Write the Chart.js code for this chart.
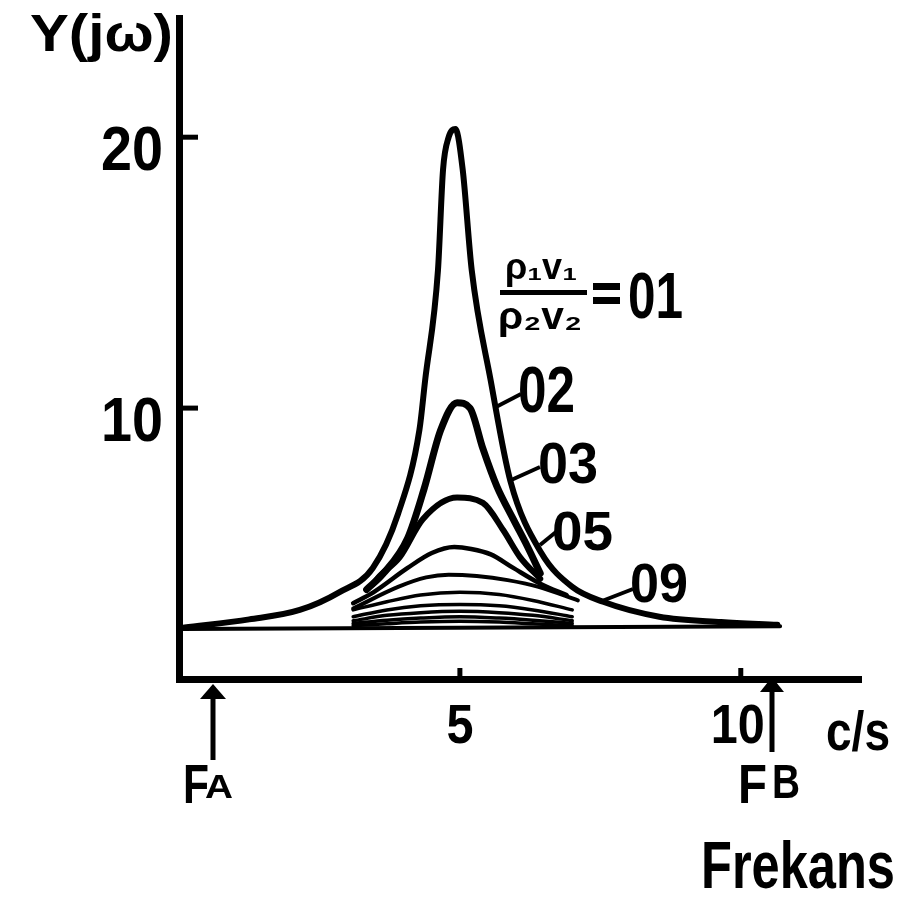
<!DOCTYPE html>
<html>
<head>
<meta charset="utf-8">
<script src="https://cdn.jsdelivr.net/npm/chart.js@4.4.1/dist/chart.umd.min.js"></script>
<style>
  html, body { margin: 0; padding: 0; background: #fff; }
  #wrap { width: 897px; height: 900px; }
</style>
</head>
<body>
<div id="wrap"><canvas id="chart" width="897" height="900"></canvas></div>
<script>
// tick labels
const xTickValues = [5, 10];
const yTickValues = [10, 20];

// ratio curves (x in c/s, y = |Y(jw)|)
const x01 = [0.1, 1.25, 2.15, 2.85, 3.45, 3.9, 4.28, 4.38, 4.61, 4.7, 4.8, 4.92, 5.05, 5.21, 5.55, 5.9, 6.45, 7.0, 7.55, 8.55, 9.65, 10.65];
const y01 = [1.9, 2.2, 2.55, 3.2, 4.1, 6.1, 9.2, 11.0, 15.1, 18.8, 20.0, 20.3, 18.8, 15.1, 11.0, 7.3, 4.65, 3.4, 2.85, 2.3, 2.1, 2.0];

const x02 = [3.34, 3.64, 4.07, 4.36, 4.66, 4.95, 5.18, 5.41, 5.66, 5.95, 6.2, 6.43];
const y02 = [3.3, 3.9, 5.2, 7.0, 9.2, 10.2, 10.0, 8.5, 7.1, 5.9, 4.9, 3.9];

const x03 = [3.45, 3.57, 3.93, 4.34, 4.95, 5.41, 5.77, 6.07, 6.43];
const y03 = [3.5, 3.8, 4.5, 5.9, 6.7, 6.5, 5.5, 4.5, 3.7];

const x04 = [3.1, 3.46, 4.07, 4.5, 4.9, 5.2, 5.55, 5.95, 6.45, 6.9];
const y04 = [2.8, 3.2, 4.1, 4.65, 4.87, 4.8, 4.6, 4.1, 3.5, 3.1];

const x05 = [3.1, 3.9, 4.4, 4.8, 5.3, 5.85, 6.4, 7.1];
const y05 = [2.6, 3.4, 3.75, 3.85, 3.8, 3.65, 3.4, 2.9];

// the flat ones share the same x positions
const xLow = [3.1, 3.7, 4.3, 5.0, 5.7, 6.3, 7.0];
const y06 = [2.55, 2.85, 3.1, 3.2, 3.12, 2.9, 2.55];
const y07 = [2.3, 2.55, 2.7, 2.75, 2.7, 2.55, 2.3];
const y08 = [2.15, 2.35, 2.45, 2.5, 2.45, 2.35, 2.15];
const y09 = [2.05, 2.17, 2.25, 2.3, 2.25, 2.17, 2.05];
const y10 = [1.97, 2.04, 2.1, 2.13, 2.1, 2.04, 1.97];

const xBase = [0.05, 10.7];
const yBase = [1.85, 1.95];

const toPoints = (xs, ys) => xs.map((x, i) => ({ x: x, y: ys[i] }));

const curve = (label, xs, ys, width) => ({
  label: label,
  data: toPoints(xs, ys),
  borderColor: "#000",
  borderWidth: width,
  pointRadius: 0,
  fill: false,
  cubicInterpolationMode: "monotone",
  borderCapStyle: "round",
  borderJoinStyle: "round",
});

// draw text squeezed/stretched into a box: left, top of capitals, width, cap height
const fitText = (ctx, str, left, top, w, h) => {
  const size = h / 0.72;
  ctx.save();
  ctx.font = "bold " + size + "px 'Liberation Sans', sans-serif";
  ctx.textAlign = "left";
  ctx.textBaseline = "alphabetic";
  const m = ctx.measureText(str).width;
  ctx.translate(left, top + h);
  ctx.scale(w / m, 1);
  ctx.fillText(str, 0, 0);
  ctx.restore();
};

const line = (ctx, x1, y1, x2, y2, width) => {
  ctx.lineWidth = width;
  ctx.beginPath();
  ctx.moveTo(x1, y1);
  ctx.lineTo(x2, y2);
  ctx.stroke();
};

const arrowUp = (ctx, x, tip, bottom, half) => {
  line(ctx, x, tip + 12, x, bottom, 5);
  ctx.beginPath();
  ctx.moveTo(x, tip);
  ctx.lineTo(x - half, tip + 15);
  ctx.lineTo(x + half, tip + 15);
  ctx.closePath();
  ctx.fill();
};

const decorations = {
  id: "decorations",
  afterDraw(chart) {
    const ctx = chart.ctx;
    const xs = chart.scales.x;
    const ys = chart.scales.y;
    const area = chart.chartArea;
    ctx.save();
    ctx.fillStyle = "#000";
    ctx.strokeStyle = "#000";
    ctx.lineCap = "butt";

    // inward tick marks and their labels, from the scales' own ticks
    ys.ticks.forEach((t) => {
      const py = ys.getPixelForValue(t.value);
      line(ctx, area.left, py, area.left + 19, py, 5);
      const s = String(t.value);
      fitText(ctx, s, area.left - 16 - 31 * s.length, py - 12, 31 * s.length, 45);
    });
    xs.ticks.forEach((t) => {
      const px = xs.getPixelForValue(t.value);
      line(ctx, px, area.bottom, px, area.bottom - 11, 5);
      const s = String(t.value);
      const w = 27 * s.length;
      fitText(ctx, s, px - w / 2 - (s.length - 1) * 3, area.bottom + 24, w, 40);
    });

    // axis titles
    fitText(ctx, "Y(jω)", 30, 14, 143, 37);
    fitText(ctx, "c/s", 826, 710, 64, 40);
    fitText(ctx, "Frekans", 701, 840, 194, 48);

    // band edges
    arrowUp(ctx, 213, 684, 760, 13);
    fitText(ctx, "F", 183, 763, 26, 40);
    fitText(ctx, "A", 205, 774, 28, 24);
    arrowUp(ctx, 772, 677, 752, 12);
    fitText(ctx, "F", 738, 763, 29, 40);
    fitText(ctx, "B", 772, 764, 28, 34);

    // ratio label
    fitText(ctx, "ρ₁v₁", 505, 253, 72, 26);
    ctx.fillRect(500, 290, 87, 5);
    fitText(ctx, "ρ₂v₂", 498, 301, 84, 28);
    ctx.fillRect(593, 283, 27, 7);
    ctx.fillRect(593, 297, 27, 7);
    fitText(ctx, "01", 628, 272, 55, 46);

    // curve labels with leader lines
    fitText(ctx, "02", 518, 366, 57, 46);
    line(ctx, 494, 408, 521, 394, 4);
    fitText(ctx, "03", 538, 442, 60, 41);
    line(ctx, 509, 481, 540, 467, 4);
    fitText(ctx, "05", 552, 510, 61, 40);
    line(ctx, 540, 545, 556, 532, 4);
    fitText(ctx, "09", 630, 562, 58, 40);
    line(ctx, 602, 601, 633, 589, 4);

    ctx.restore();
  },
};

const renderChart = () => {
  const canvas = document.querySelector("#chart");

  new Chart(canvas, {
    type: "line",
    data: {
      datasets: [
        curve("01", x01, y01, 6),
        curve("02", x02, y02, 7),
        curve("03", x03, y03, 6),
        curve("04", x04, y04, 4.5),
        curve("05", x05, y05, 4),
        curve("06", xLow, y06, 3.5),
        curve("07", xLow, y07, 3.5),
        curve("08", xLow, y08, 3.5),
        curve("09", xLow, y09, 3.5),
        curve("10", xLow, y10, 3.5),
        curve("base", xBase, yBase, 4),
      ],
    },
    options: {
      responsive: false,
      animation: false,
      events: [],
      layout: { padding: { top: 18, right: 36, left: 0, bottom: 0 } },
      plugins: { legend: { display: false }, tooltip: { enabled: false } },
      scales: {
        x: {
          type: "linear",
          min: 0,
          max: 12.14,
          grid: { display: false, drawTicks: false },
          border: { display: true, color: "#000", width: 7 },
          afterBuildTicks: (scale) => {
            scale.ticks = xTickValues.map((v) => ({ value: v }));
          },
          afterFit: (scale) => {
            scale.height = 221;
          },
          ticks: { display: false },
        },
        y: {
          type: "linear",
          min: 0,
          max: 24.4,
          grid: { display: false, drawTicks: false },
          border: { display: true, color: "#000", width: 7 },
          afterBuildTicks: (scale) => {
            scale.ticks = yTickValues.map((v) => ({ value: v }));
          },
          afterFit: (scale) => {
            scale.width = 179;
          },
          ticks: { display: false },
        },
      },
    },
    plugins: [decorations],
  });
};

renderChart();
</script>
</body>
</html>
